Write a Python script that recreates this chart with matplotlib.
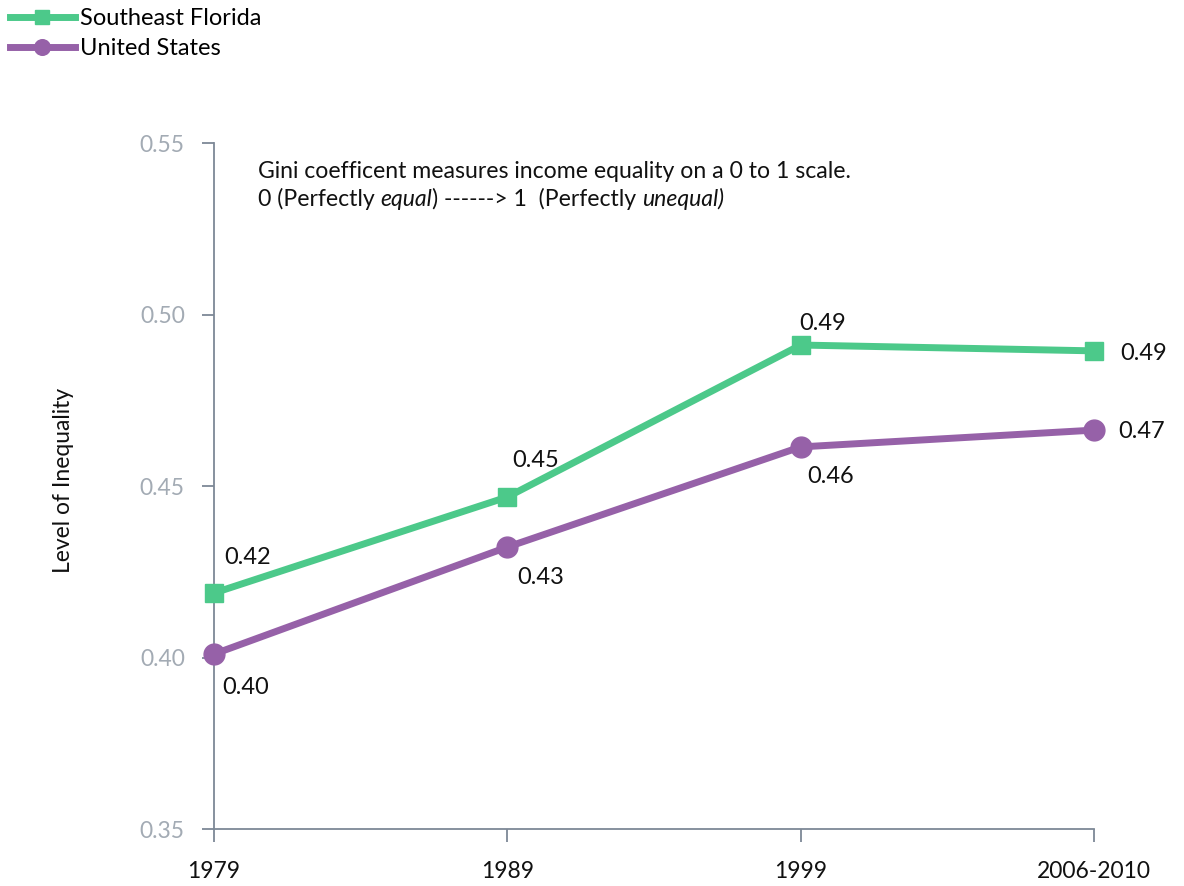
import matplotlib

matplotlib.use("Agg")
import matplotlib.pyplot as plt

plt.rcParams["font.family"] = ["Lato", "DejaVu Sans"]

periods = ["1979", "1989", "1999", "2006-2010"]
se_florida = [0.4188, 0.4468, 0.4911, 0.4894]
united_states = [0.4010, 0.4322, 0.4614, 0.4663]
y_ticks = [0.35, 0.40, 0.45, 0.50, 0.55]

_C_GREEN = "#4cc98a"
_C_PURPLE = "#9661a8"
_C_AXIS = "#7d8896"
_C_TICK = "#a3abb4"

fig = plt.figure(figsize=(11.84, 8.86), dpi=100)
ax = fig.add_axes([0.1807, 0.0643, 0.924 - 0.1807, 0.8386 - 0.0643])

x = list(range(len(periods)))
l1, = ax.plot(x, se_florida, "-s", color=_C_GREEN, lw=5, ms=13, label="Southeast Florida",
              clip_on=False, zorder=3)
l2, = ax.plot(x, united_states, "-o", color=_C_PURPLE, lw=5, ms=15, label="United States",
              clip_on=False, zorder=3)

# data labels (pixel offsets from each point)
se_off = [(34, 36), (28, 36), (22, 22), (50, -3)]
us_off = [(32, -33), (33, -30), (30, -30), (48, -1)]
for vals, offs in [(se_florida, se_off), (united_states, us_off)]:
    for xi, v, (dx, dy) in zip(x, vals, offs):
        ax.annotate(f"{v:.2f}", xy=(xi, v), xytext=(dx, dy), textcoords="offset pixels",
                    ha="center", va="center", fontsize=17, color="#111111")

ax.set_xlim(0, 3)
ax.set_ylim(0.35, 0.55)
ax.set_xticks(x)
ax.set_xticklabels(periods, fontsize=16.5, color="#111111")
ax.set_yticks(y_ticks)
ax.set_yticklabels([f"{t:.2f}" for t in y_ticks], fontsize=16.5, color=_C_TICK)
ax.tick_params(axis="both", direction="out", length=9, width=1.3, color=_C_AXIS)
ax.tick_params(axis="x", pad=14)
ax.tick_params(axis="y", pad=12)
for s in ["top", "right"]:
    ax.spines[s].set_visible(False)
for s in ["left", "bottom"]:
    ax.spines[s].set_color(_C_AXIS)
    ax.spines[s].set_linewidth(1.3)

fig.text(63 / 1184, 1 - 480 / 886, "Level of Inequality", rotation=90, fontsize=16.5,
         ha="center", va="center", color="#111111")

# note text, with italic pieces on the second line
fig.text(258 / 1184, 1 - 172 / 886, "Gini coefficent measures income equality on a 0 to 1 scale.",
         fontsize=16.6, ha="left", va="center", color="#111111")
pieces = [("0 (Perfectly ", "normal"), ("equal", "italic"), (") ------> 1  (Perfectly ", "normal"),
          ("unequal)", "italic")]
fig.canvas.draw()
renderer = fig.canvas.get_renderer()
xpix = 258
for txt, style in pieces:
    t = fig.text(xpix / 1184, 1 - 199 / 886, txt, fontsize=16.6, style=style,
                 ha="left", va="center", color="#111111")
    bb = t.get_window_extent(renderer=renderer)
    xpix += bb.width

fig.legend(handles=[l1, l2], loc="upper left", bbox_to_anchor=(10 / 1184, 1 - 8 / 886),
           frameon=False, fontsize=17, handlelength=2.75, handletextpad=0.2, labelspacing=0.38,
           borderaxespad=0.0, borderpad=0.0, markerscale=0.75)

fig.savefig("out.png", dpi=100)
